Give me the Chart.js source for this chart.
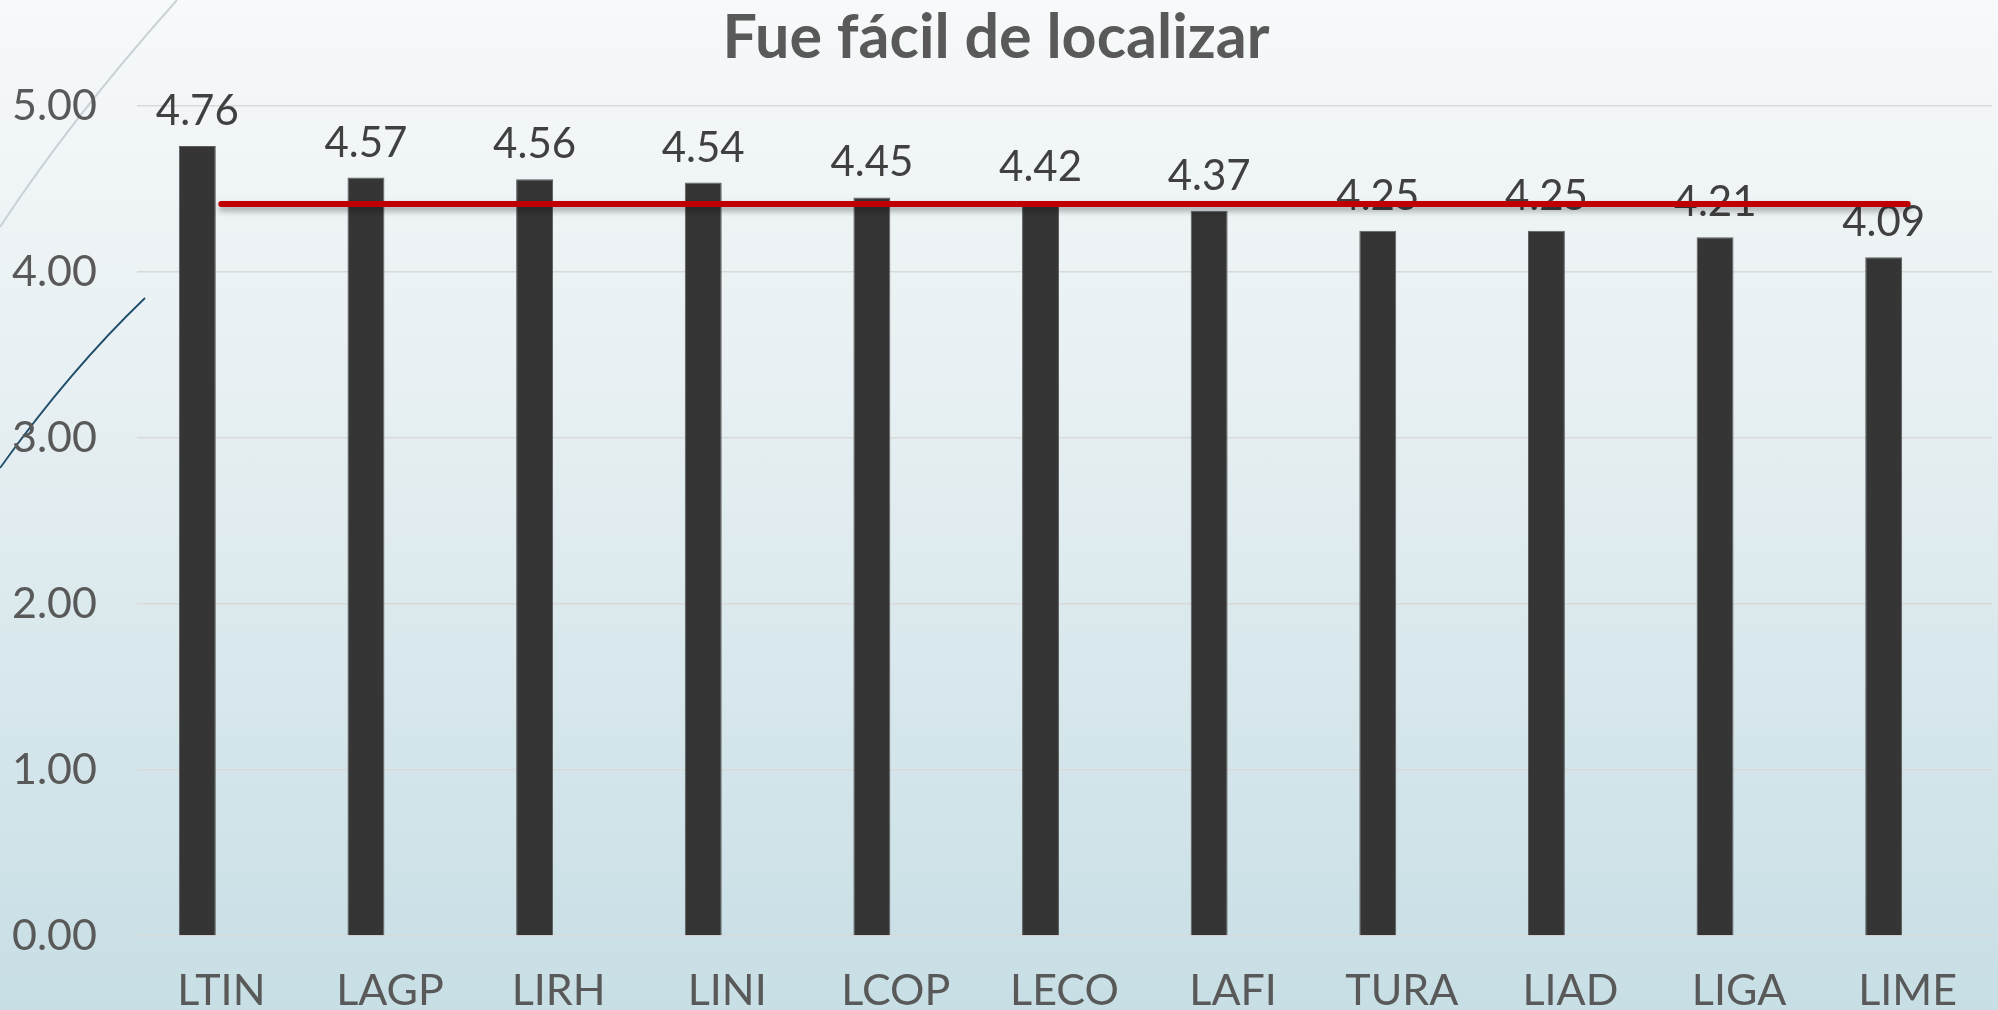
<!DOCTYPE html>
<html>
<head>
<meta charset="utf-8">
<script src="https://cdn.jsdelivr.net/npm/chart.js@4"></script>
<style>
  html, body { margin: 0; padding: 0; overflow: hidden; }
  #wrap {
    width: 1998px; height: 1030px; position: relative;
    background: linear-gradient(to bottom, #f7f9fa 0%, #e6eff2 40%, #d3e5ea 75%, #c6dee4 100%);
  }
</style>
</head>
<body>
<div id="wrap"><canvas id="chart"></canvas></div>
<script>
const categorias = ["LTIN", "LAGP", "LIRH", "LINI", "LCOP", "LECO", "LAFI", "TURA", "LIAD", "LIGA", "LIME"];
const valores = [4.76, 4.57, 4.56, 4.54, 4.45, 4.42, 4.37, 4.25, 4.25, 4.21, 4.09];
const promedio = [4.41, 4.41, 4.41, 4.41, 4.41, 4.41, 4.41, 4.41, 4.41, 4.41, 4.41];
const serieVacia = [null, null, null, null, null, null, null, null, null, null, null]; // empty 2nd bar series, like the source
const ejeY = { min: 0, max: 5, paso: 1 };

const FONT = "Lato, 'Open Sans', sans-serif";

// thin decorative strokes in the top-left corner of the slide
const decoracion = {
  id: "decoracion",
  beforeDraw(chart) {
    const ctx = chart.ctx;
    ctx.save();
    ctx.strokeStyle = "#c8d2d7";
    ctx.lineWidth = 2;
    ctx.beginPath();
    ctx.moveTo(0, 227);
    ctx.quadraticCurveTo(70, 120, 177, 0);
    ctx.stroke();
    ctx.strokeStyle = "#1f4d68";
    ctx.lineWidth = 1.8;
    ctx.beginPath();
    ctx.moveTo(0, 468);
    ctx.quadraticCurveTo(70, 370, 145, 298);
    ctx.stroke();
    ctx.restore();
  }
};

// value labels above the bars + shadow under the average line
const etiquetas = {
  id: "etiquetas",
  beforeDatasetDraw(chart, args) {
    if (args.meta.type === "line") {
      const ctx = chart.ctx;
      ctx.save();
      ctx.shadowColor = "rgba(0,0,0,0.35)";
      ctx.shadowBlur = 6;
      ctx.shadowOffsetY = 4;
    }
  },
  afterDatasetDraw(chart, args) {
    const ctx = chart.ctx;
    if (args.meta.type === "line") { ctx.restore(); return; }
    if (args.index !== 0) return;
    ctx.save();
    ctx.font = "42px " + FONT;
    ctx.fillStyle = "#404040";
    ctx.textAlign = "center";
    ctx.textBaseline = "alphabetic";
    args.meta.data.forEach((bar, i) => {
      ctx.fillText(valores[i].toFixed(2), bar.x, bar.y - 21);
    });
    ctx.restore();
  }
};

new Chart(document.getElementById("chart"), {
  type: "bar",
  data: {
    labels: categorias,
    datasets: [
      { label: "Fue fácil de localizar", data: valores, backgroundColor: "#353535",
        borderColor: "#5c5c5c", borderWidth: 1, order: 1 },
      { label: "", data: serieVacia, backgroundColor: "#353535", order: 1 },
      { type: "line", label: "Promedio", data: promedio, borderColor: "#c00000",
        borderWidth: 6, borderCapStyle: "round", pointRadius: 0, tension: 0, order: 0 }
    ]
  },
  options: {
    responsive: true,
    maintainAspectRatio: false,
    animation: false,
    datasets: { bar: { categoryPercentage: 0.569, barPercentage: 0.77 } },
    layout: { padding: { left: 0, right: 6, top: 0, bottom: 0 } },
    plugins: {
      legend: { display: false },
      tooltip: { enabled: false },
      title: {
        display: true,
        text: "Fue fácil de localizar",
        color: "#595959",
        font: { family: FONT, size: 61, weight: "bold" },
        padding: { top: 2, bottom: 31 }
      }
    },
    scales: {
      x: {
        grid: { display: false },
        border: { display: false },
        ticks: { color: "#595959", font: { family: FONT, size: 43 }, padding: 21, maxRotation: 0 },
        afterFit(scale) { scale.height = 94; }
      },
      y: {
        min: ejeY.min, max: ejeY.max,
        grid: { color: "#d9d9d9", lineWidth: 1.5, drawTicks: false },
        border: { display: false },
        ticks: {
          stepSize: ejeY.paso, padding: 40, color: "#595959",
          font: { family: FONT, size: 43 },
          callback: v => v.toFixed(2)
        },
        afterFit(scale) { scale.width = 137; }
      }
    }
  },
  plugins: [decoracion, etiquetas]
});
</script>
</body>
</html>
